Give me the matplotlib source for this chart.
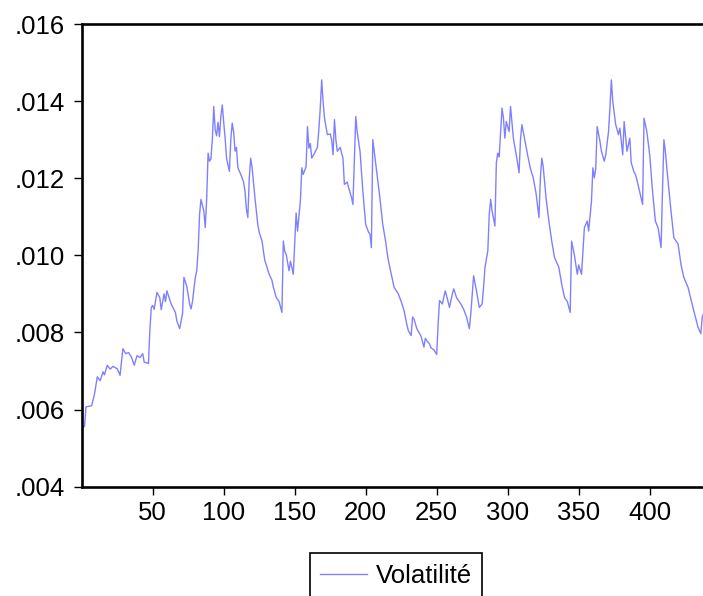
import matplotlib
matplotlib.use("Agg")
import matplotlib.pyplot as plt
from matplotlib.ticker import FuncFormatter

obs = [1, 2, 3, 7, 9, 11, 13, 15, 16, 18, 20, 22, 25, 27, 29, 31, 33, 35, 37, 39,
       41, 43, 44, 47, 48, 49, 50, 51, 53, 55, 56, 58, 59, 60, 62, 63, 66, 67, 69, 71,
       72, 74, 76, 77, 78, 80, 81, 82, 83, 84, 85, 86, 87, 88, 89, 90, 91, 92, 93, 94,
       95, 96, 97, 98, 99, 100, 101,
       102, 104, 105, 106, 107, 108, 109, 110, 112, 114, 115, 116, 117, 118, 119, 120,
       122, 124, 125, 127, 128, 129, 130, 132, 134, 135, 137, 139, 141, 142, 143, 144,
       146, 147, 149, 151, 152, 154, 155, 156, 158, 159, 160, 161, 162, 164, 166, 167,
       168, 169, 170, 171, 173, 175, 176, 177, 178, 179, 180, 182, 184, 185, 187, 188,
       190, 191, 192, 193, 194, 196, 198, 200, 202, 203, 204, 205, 206, 208, 210, 212,
       214,
       215, 216, 218, 220, 223, 225, 227, 229, 230, 232, 233, 234, 236, 238, 239, 241,
       242, 243, 245, 246, 248, 250, 251, 252, 254, 256, 257, 259, 261, 262, 264, 267,
       269, 271, 273, 274, 276, 278, 280, 282, 283, 284, 286, 287, 288, 289, 291, 292,
       293, 294, 296, 297, 298, 299, 301, 302, 304, 306, 308, 309, 310, 312, 314, 316,
       318, 320, 322, 323, 324, 325, 327,
       329, 331, 333, 336, 338, 340, 342, 344, 345, 347, 349, 350, 352, 354, 356, 357,
       359, 360, 361, 362, 363, 365, 366, 368, 369, 371, 372, 373, 374, 376, 378, 379,
       381, 382, 384, 386, 387, 389, 390, 392, 395, 396, 398, 400, 402, 404, 406, 408,
       409, 410, 411, 413, 415, 417, 420, 422, 424, 427, 429, 431, 434, 436, 437, 438]

volatility = [0.00556, 0.00556, 0.00607, 0.00610, 0.00640, 0.00685, 0.00675, 0.00698, 0.00690, 0.00715,
              0.00705, 0.00712, 0.00706, 0.00689, 0.00758, 0.00745, 0.00748, 0.00736, 0.00715, 0.00740,
              0.00735, 0.00745, 0.00723, 0.00720, 0.00805, 0.00865, 0.00870, 0.00860, 0.00904, 0.00890,
              0.00859, 0.00900, 0.00880, 0.00908, 0.00885, 0.00874, 0.00852, 0.00830, 0.00810, 0.00848,
              0.00943, 0.00920, 0.00874, 0.00861, 0.00880, 0.00943, 0.00960, 0.01012, 0.01106, 0.01145,
              0.01130, 0.01115, 0.01072, 0.01145, 0.01265, 0.01244, 0.01250, 0.01300, 0.01386, 0.01326,
              0.01310, 0.01345, 0.01308, 0.01360, 0.01390, 0.01345, 0.01304,
              0.01252, 0.01218, 0.01300, 0.01343, 0.01320, 0.01270, 0.01280, 0.01227, 0.01210, 0.01190,
              0.01166, 0.01120, 0.01098, 0.01200, 0.01252, 0.01227, 0.01149, 0.01080, 0.01060, 0.01037,
              0.01010, 0.00986, 0.00975, 0.00951, 0.00935, 0.00917, 0.00891, 0.00880, 0.00852, 0.01037,
              0.01010, 0.01003, 0.00960, 0.00985, 0.00951, 0.01110, 0.01063, 0.01141, 0.01227, 0.01210,
              0.01230, 0.01334, 0.01278, 0.01290, 0.01252, 0.01265, 0.01280, 0.01326, 0.01382, 0.01455,
              0.01399, 0.01356, 0.01313, 0.01315, 0.01300, 0.01261, 0.01352, 0.01300, 0.01270, 0.01280,
              0.01252, 0.01184, 0.01190, 0.01175, 0.01150, 0.01132, 0.01244, 0.01360, 0.01320, 0.01270,
              0.01166, 0.01080, 0.01060, 0.01055, 0.01020, 0.01300, 0.01270, 0.01210, 0.01149, 0.01080,
              0.01037,
              0.01010, 0.00986, 0.00951, 0.00917, 0.00900, 0.00880, 0.00857, 0.00820, 0.00805, 0.00792,
              0.00840, 0.00835, 0.00810, 0.00797, 0.00790, 0.00762, 0.00785, 0.00779, 0.00770, 0.00760,
              0.00755, 0.00743, 0.00822, 0.00883, 0.00874, 0.00908, 0.00895, 0.00865, 0.00900, 0.00913,
              0.00890, 0.00874, 0.00860, 0.00840, 0.00810, 0.00848, 0.00947, 0.00908, 0.00865, 0.00874,
              0.00917, 0.00969, 0.01012, 0.01106, 0.01145, 0.01115, 0.01076, 0.01240, 0.01265, 0.01255,
              0.01382, 0.01356, 0.01304, 0.01347, 0.01321, 0.01386, 0.01304, 0.01261, 0.01214, 0.01300,
              0.01339, 0.01300, 0.01261, 0.01225, 0.01201, 0.01160, 0.01098, 0.01200, 0.01252, 0.01230,
              0.01149,
              0.01089, 0.01037, 0.00994, 0.00969, 0.00926, 0.00891, 0.00880, 0.00852, 0.01037, 0.01000,
              0.00951, 0.00975, 0.00951, 0.01072, 0.01089, 0.01063, 0.01141, 0.01227, 0.01201, 0.01225,
              0.01334, 0.01295, 0.01270, 0.01244, 0.01260, 0.01321, 0.01382, 0.01455, 0.01399, 0.01340,
              0.01313, 0.01330, 0.01261, 0.01347, 0.01270, 0.01304, 0.01240, 0.01215, 0.01210, 0.01180,
              0.01132, 0.01356, 0.01320, 0.01261, 0.01166, 0.01089, 0.01070, 0.01020, 0.01166, 0.01300,
              0.01270, 0.01190, 0.01115, 0.01046, 0.01029, 0.00977, 0.00943, 0.00917, 0.00887, 0.00857,
              0.00814, 0.00797, 0.00840, 0.00850]

x_ticks = [50, 100, 150, 200, 250, 300, 350, 400]
y_ticks = [0.004, 0.006, 0.008, 0.010, 0.012, 0.014, 0.016]
series_name = "Volatilité"

plt.rcParams['font.family'] = ['Liberation Sans', 'DejaVu Sans']

W, H = 703, 596
fig = plt.figure(figsize=(W / 100, H / 100), dpi=100)
# axes runs past the right edge of the picture, like the cropped original
ax = fig.add_axes([81.7 / W, 1 - 486.7 / H, (710 - 81.7) / W, (486.7 - 24) / H])

ax.plot(obs, volatility, color='#8080ff', lw=1.0, label=series_name)

ax.set_xlim(0, (710 - 81.7) / 1.42)
ax.set_ylim(0.004, 0.016)
ax.set_xticks(x_ticks)
ax.set_yticks(y_ticks)
ax.yaxis.set_major_formatter(FuncFormatter(lambda v, p: f"{v:.3f}".lstrip('0')))

for s in ax.spines.values():
    s.set_linewidth(1.9)
ax.tick_params(direction='out', length=6, width=1.0, labelsize=18.5)
ax.tick_params(axis='y', pad=6)
ax.tick_params(axis='x', pad=4)

leg = fig.legend(loc='upper center', bbox_to_anchor=(396 / W, 1 - 553 / H),
                 fontsize=18.5, frameon=True, fancybox=False, framealpha=1,
                 edgecolor='black', handlelength=1.8, handletextpad=0.35,
                 borderpad=0.42, borderaxespad=0)
leg.get_frame().set_linewidth(1.2)

fig.savefig("out.png", dpi=100)
